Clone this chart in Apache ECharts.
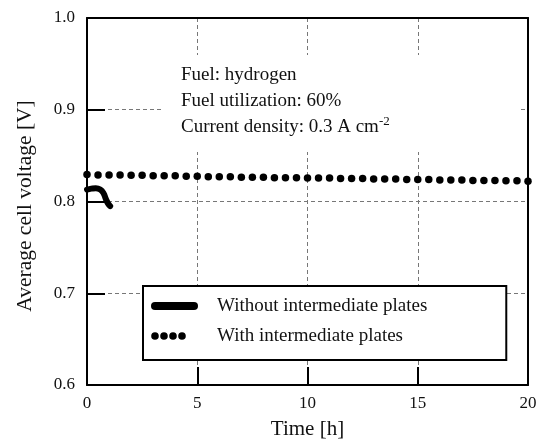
<!DOCTYPE html>
<html>
<head>
<meta charset="utf-8">
<script src="https://cdn.jsdelivr.net/npm/echarts@6/dist/echarts.min.js"></script>
<style>
  html, body { margin: 0; padding: 0; background: #fff; }
  #chart { width: 543px; height: 439px; }
</style>
</head>
<body>
<div id="chart"></div>
<script>
  // 数据：时间 [h] 与平均单电池电压 [V]
  const withoutTime = [0, 0.2, 0.4, 0.6, 0.75, 0.85, 0.95, 1.05]
  const withoutVoltage = [0.813, 0.814, 0.8145, 0.813, 0.809, 0.803, 0.798, 0.795]

  const withTime = [0, 0.5, 1, 1.5, 2, 2.5, 3, 3.5, 4, 4.5, 5, 5.5, 6, 6.5, 7, 7.5, 8, 8.5, 9, 9.5,
    10, 10.5, 11, 11.5, 12, 12.5, 13, 13.5, 14, 14.5, 15, 15.5, 16, 16.5, 17, 17.5, 18, 18.5, 19, 19.5, 20]
  const withVoltage = [0.8295, 0.829, 0.829, 0.829, 0.8285, 0.8285, 0.828, 0.828, 0.828, 0.8275, 0.8275,
    0.827, 0.827, 0.827, 0.8265, 0.8265, 0.8265, 0.826, 0.826, 0.826, 0.8255,
    0.8255, 0.8255, 0.825, 0.825, 0.825, 0.8245, 0.8245, 0.8245, 0.824, 0.824,
    0.824, 0.8235, 0.8235, 0.8235, 0.823, 0.823, 0.823, 0.8225, 0.8225, 0.8222]

  const xTicks = { min: 0, max: 20, interval: 5 }
  const yTicks = { min: 0.6, max: 1.0, interval: 0.1 }

  const seriesNames = ['Without intermediate plates', 'With intermediate plates']
  const noteLines = ['Fuel: hydrogen', 'Fuel utilization: 60%', 'Current density: 0.3 A cm{sup|-2}']

  const font = 'Liberation Serif'
  const ink = '#111'

  const axisStyle = {
    axisLine: { onZero: false, lineStyle: { color: '#000', width: 2 } },
    axisTick: { inside: true, length: 18, lineStyle: { color: '#000', width: 2 } },
    splitLine: { show: true, lineStyle: { color: '#777', width: 1, type: [4, 3] } }
  }
  // 上边框和右边框：只画轴线
  const frameAxis = {
    show: true,
    axisLine: { onZero: false, lineStyle: { color: '#000', width: 2 } },
    axisTick: { show: false },
    axisLabel: { show: false },
    splitLine: { show: false }
  }

  const zip = (xs, ys) => xs.map((x, i) => [x, ys[i]])

  const chart = echarts.init(document.getElementById('chart'))
  chart.setOption({
    animation: false,
    grid: { left: 87, right: 15, top: 18, bottom: 54, containLabel: false, outerBoundsMode: 'none' },
    xAxis: [{
      type: 'value',
      ...xTicks,
      ...axisStyle,
      name: 'Time [h]',
      nameLocation: 'middle',
      nameGap: 34,
      nameTextStyle: { fontFamily: font, fontSize: 21, color: ink },
      axisLabel: { margin: 10, fontFamily: font, fontSize: 17, color: ink }
    }, {
      type: 'value',
      position: 'top',
      ...xTicks,
      ...frameAxis
    }],
    yAxis: [{
      type: 'value',
      ...yTicks,
      ...axisStyle,
      name: 'Average cell voltage [V]',
      nameLocation: 'middle',
      nameGap: 51,
      nameTextStyle: { fontFamily: font, fontSize: 21.5, color: ink, padding: [0, 9, 0, 0] },
      axisLabel: { margin: 12, fontFamily: font, fontSize: 17, color: ink, formatter: v => v.toFixed(1) }
    }, {
      type: 'value',
      position: 'right',
      ...yTicks,
      ...frameAxis
    }],
    legend: {
      orient: 'vertical',
      left: 143,
      top: 286,
      backgroundColor: '#fff',
      borderColor: '#000',
      borderWidth: 2,
      borderRadius: 0,
      padding: [10, 79, 14, 8],
      itemWidth: 47,
      itemHeight: 8,
      itemGap: 10,
      textStyle: { fontFamily: font, fontSize: 19, color: ink, lineHeight: 20, padding: [0, 0, 0, 14] },
      data: [
        { name: seriesNames[0], icon: 'path://M4,0L43,0A4,4,0,0,1,43,8L4,8A4,4,0,0,1,4,0Z' },
        {
          name: seriesNames[1],
          icon: 'path://M0,0M47,8M0.2,4A3.8,3.8,0,1,0,7.8,4A3.8,3.8,0,1,0,0.2,4Z' +
            'M9.2,4A3.8,3.8,0,1,0,16.8,4A3.8,3.8,0,1,0,9.2,4Z' +
            'M18.2,4A3.8,3.8,0,1,0,25.8,4A3.8,3.8,0,1,0,18.2,4Z' +
            'M27.2,4A3.8,3.8,0,1,0,34.8,4A3.8,3.8,0,1,0,27.2,4Z'
        }
      ]
    },
    graphic: [
      { type: 'rect', z: 10, shape: { x: 164, y: 55, width: 355, height: 97 }, style: { fill: '#fff' } },
      ...noteLines.map((t, i) => ({
        type: 'text',
        z: 11,
        x: 181,
        y: 75 + i * 26,
        style: {
          text: t,
          fill: ink,
          font: '19px "' + font + '"',
          verticalAlign: 'middle',
          rich: { sup: { fontSize: 13, fontFamily: font, fill: ink, padding: [0, 0, 10, 0] } }
        }
      }))
    ],
    series: [
      {
        name: seriesNames[0],
        type: 'line',
        smooth: true,
        showSymbol: false,
        symbol: 'none',
        data: zip(withoutTime, withoutVoltage),
        itemStyle: { color: '#000', opacity: 1 },
        lineStyle: { color: '#000', width: 6, cap: 'round', join: 'round' },
        z: 5
      },
      {
        name: seriesNames[1],
        type: 'scatter',
        symbol: 'circle',
        symbolSize: 7.5,
        data: zip(withTime, withVoltage),
        itemStyle: { color: '#000', opacity: 1 },
        z: 5
      }
    ]
  })
</script>
</body>
</html>
